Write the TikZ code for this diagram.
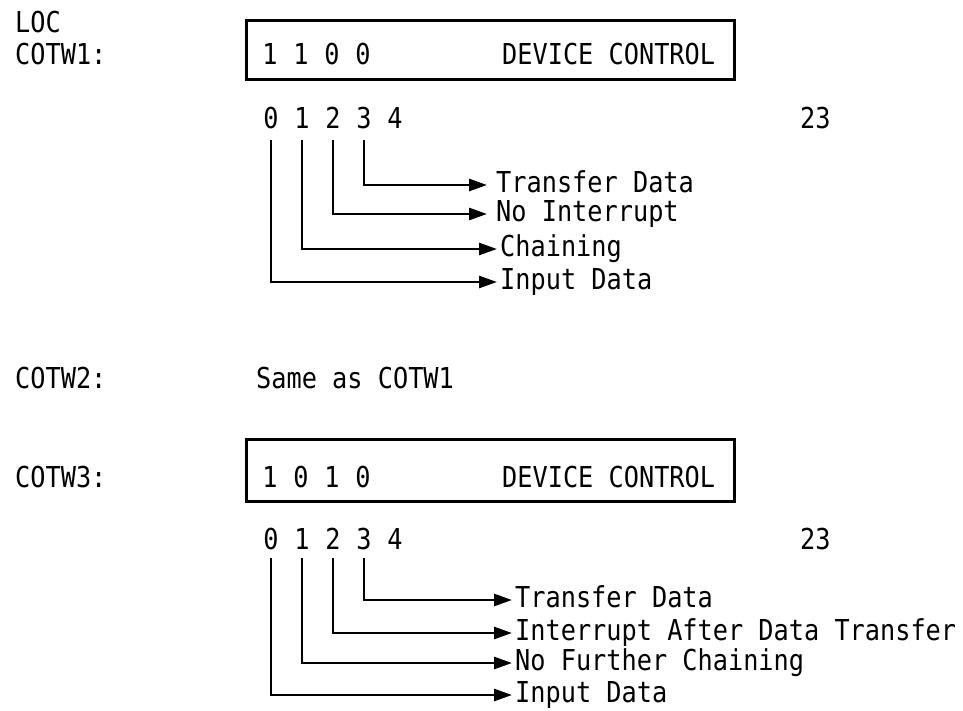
\documentclass[tikz,border=0pt]{standalone}
\usepackage{fontspec}
\setmonofont{DejaVu Sans Mono}[FakeStretch=0.877]
\usetikzlibrary{arrows.meta}
\newcommand\tw{\ttfamily\fontsize{28.8pt}{30pt}\selectfont}
\begin{document}
\begin{tikzpicture}[x=1pt,y=-1pt,
  txt/.style={font=\tw, inner sep=0pt, anchor=base west},
  bit/.style={font=\tw, inner sep=0pt, anchor=base},
  lbl/.style={font=\tw, inner ysep=0pt, anchor=west, text height=21pt, text depth=6pt},
  field/.style={draw, line width=2.8pt, inner sep=0pt, anchor=north west},
  lead/.style={line width=2.7pt, -{Triangle[length=18pt,width=12pt]}},
]
\useasboundingbox (0,0) rectangle (963,711);

% ---------- COTW1 ----------
\node[txt] (loc) at (15,33) {LOC};
\node[txt] (w1) at (15,65) {COTW1:};
\node[field, minimum width=488pt, minimum height=59pt] (f1) at (245,19) {};
\node[bit] (c10) at (270,65) {1};
\node[bit] (c11) at (301,65) {1};
\node[bit] (c12) at (332,65) {0};
\node[bit] (c13) at (363,65) {0};
\node[txt] (dc1) at (502,65) {DEVICE CONTROL};

\node[bit] (a0) at (271,129) {0};
\node[bit] (a1) at (302,129) {1};
\node[bit] (a2) at (333,129) {2};
\node[bit] (a3) at (364,129) {3};
\node[bit] (a4) at (395,129) {4};
\node[txt] (a23) at (800,129) {23};

\node[lbl, inner xsep=9pt] (s13) at (487,185) {Transfer Data};
\node[lbl, inner xsep=9pt] (s12) at (487,214) {No Interrupt};
\node[lbl, inner xsep=3pt] (s11) at (497,249) {Chaining};
\node[lbl, inner xsep=3pt] (s10) at (497,282) {Input Data};

\draw[lead] ([yshift=-11pt]a3.base) |- (s13.west);
\draw[lead] ([yshift=-11pt]a2.base) |- (s12.west);
\draw[lead] ([yshift=-11pt]a1.base) |- (s11.west);
\draw[lead] ([yshift=-11pt]a0.base) |- (s10.west);

% ---------- COTW2 ----------
\node[txt] (w2) at (15,388) {COTW2:};
\node[txt] (same) at (256,388) {Same as COTW1};

% ---------- COTW3 ----------
\node[txt] (w3) at (15,487) {COTW3:};
\node[field, minimum width=488pt, minimum height=62pt] (f3) at (245,438) {};
\node[bit] (c30) at (270,487) {1};
\node[bit] (c31) at (301,487) {0};
\node[bit] (c32) at (332,487) {1};
\node[bit] (c33) at (363,487) {0};
\node[txt] (dc3) at (502,487) {DEVICE CONTROL};

\node[bit] (d0) at (271,549) {0};
\node[bit] (d1) at (302,549) {1};
\node[bit] (d2) at (333,549) {2};
\node[bit] (d3) at (364,549) {3};
\node[bit] (d4) at (395,549) {4};
\node[txt] (d23) at (800,549) {23};

\node[lbl, inner xsep=3pt] (u13) at (512,600) {Transfer Data};
\node[lbl, inner xsep=3pt] (u12) at (512,633) {Interrupt After Data Transfer};
\node[lbl, inner xsep=3pt] (u11) at (512,663) {No Further Chaining};
\node[lbl, inner xsep=3pt] (u10) at (512,695) {Input Data};

\draw[lead] ([yshift=-9pt]d3.base) |- (u13.west);
\draw[lead] ([yshift=-9pt]d2.base) |- (u12.west);
\draw[lead] ([yshift=-9pt]d1.base) |- (u11.west);
\draw[lead] ([yshift=-9pt]d0.base) |- (u10.west);
\end{tikzpicture}
\end{document}
